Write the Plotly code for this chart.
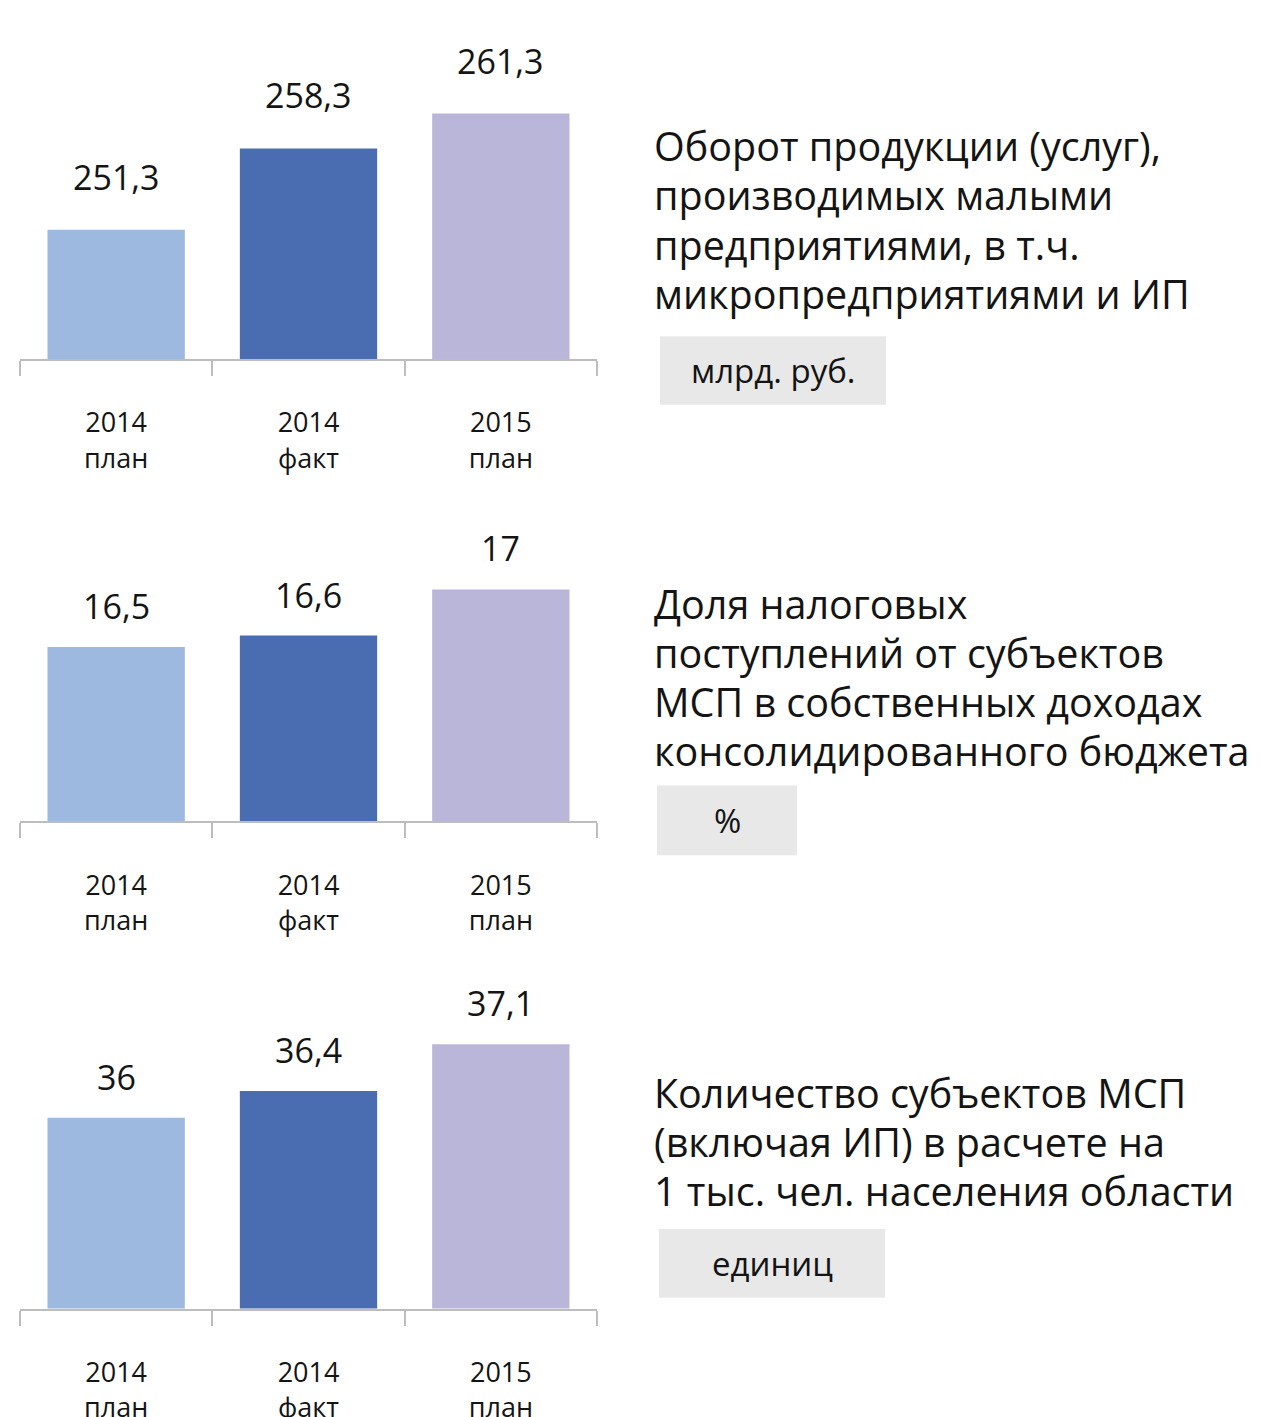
import plotly.graph_objects as go

categories = ["2014<br>план", "2014<br>факт", "2015<br>план"]
turnover = [251.3, 258.3, 261.3]
turnover_labels = ["251,3", "258,3", "261,3"]
tax_share = [16.5, 16.6, 17]
tax_labels = ["16,5", "16,6", "17"]
smb_count = [36, 36.4, 37.1]
smb_labels = ["36", "36,4", "37,1"]

titles = [
    ["Оборот продукции (услуг),", "производимых малыми", "предприятиями, в т.ч.", "микропредприятиями и ИП"],
    ["Доля налоговых", "поступлений от субъектов", "МСП в собственных доходах", "консолидированного бюджета"],
    ["Количество субъектов МСП", "(включая ИП) в расчете на", "1 тыс. чел. населения области"],
]
units = ["млрд. руб.", "%", "единиц"]

W, H = 1264, 1417
OFF = 8  # page body margin
bar_colors = ["#9db9e0", "#4a6cb0", "#b9b6d9"]
FONT = "Open Sans"
TXT = "#141414"

def px(p):
    return (p - OFF) / W

def py(p):  # pixel-from-top to paper fraction
    return 1 - (p - OFF) / H

panels = [
    dict(vals=turnover, labs=turnover_labels, base=361, top=21, rng=[240.2, 269.26], shift=28,
         ttop=147, box=(660, 886, 338, 407)),
    dict(vals=tax_share, labs=tax_labels, base=826, top=501, rng=[14.99, 17.79], shift=16,
         ttop=607, box=(657, 797, 790, 860)),
    dict(vals=smb_count, labs=smb_labels, base=1316, top=976, rng=[33.15, 38.2], shift=16,
         ttop=1099, box=(659, 885, 1236, 1305)),
]

fig = go.Figure()
annotations = []
shapes = []
layout = {}
for i, p in enumerate(panels):
    n = "" if i == 0 else str(i + 1)
    fig.add_trace(go.Bar(
        x=categories, y=p["vals"],
        marker=dict(color=bar_colors, line=dict(width=0)),
        xaxis="x" + n, yaxis="y" + n, showlegend=False, hoverinfo="skip",
    ))
    layout["xaxis" + n] = dict(
        domain=[px(20), px(597)], anchor="y" + n,
        showline=True, linecolor="#bdbdbd", linewidth=2,
        ticks="outside", tickson="boundaries", ticklen=15, tickwidth=2, tickcolor="#bdbdbd",
        ticklabelstandoff=39,
        tickfont=dict(family=FONT, size=27, color=TXT),
        showgrid=False, zeroline=False,
    )
    layout["yaxis" + n] = dict(
        domain=[py(p["base"]), py(p["top"])], anchor="x" + n,
        range=p["rng"], visible=False, showgrid=False, zeroline=False,
    )
    for c, v, t in zip(categories, p["vals"], p["labs"]):
        annotations.append(dict(
            x=c, y=v, xref="x" + n, yref="y" + n, text=t, showarrow=False,
            yanchor="bottom", yshift=p["shift"],
            font=dict(family=FONT, size=34, color=TXT),
        ))
    for k, line in enumerate(titles[i]):
        annotations.append(dict(
            x=px(652), y=py(p["ttop"] + 49.5 * k), xref="paper", yref="paper", text=line,
            showarrow=False, xanchor="left", yanchor="middle", align="left",
            font=dict(family=FONT, size=39.5, color=TXT),
        ))
    x0, x1, y0, y1 = p["box"]
    shapes.append(dict(type="rect", xref="paper", yref="paper",
                       x0=px(x0), x1=px(x1), y0=py(y1), y1=py(y0),
                       fillcolor="#e8e8e8", line=dict(width=0), layer="below"))
    annotations.append(dict(
        x=px((x0 + x1) / 2), y=py((y0 + y1) / 2), xref="paper", yref="paper",
        text=units[i], showarrow=False, xanchor="center", yanchor="middle",
        font=dict(family=FONT, size=33, color=TXT),
    ))

fig.update_layout(
    width=W, height=H, margin=dict(l=0, r=0, t=0, b=0),
    paper_bgcolor="white", plot_bgcolor="white",
    bargap=0.286, annotations=annotations, shapes=shapes, **layout,
)
fig.write_html("out.html")
